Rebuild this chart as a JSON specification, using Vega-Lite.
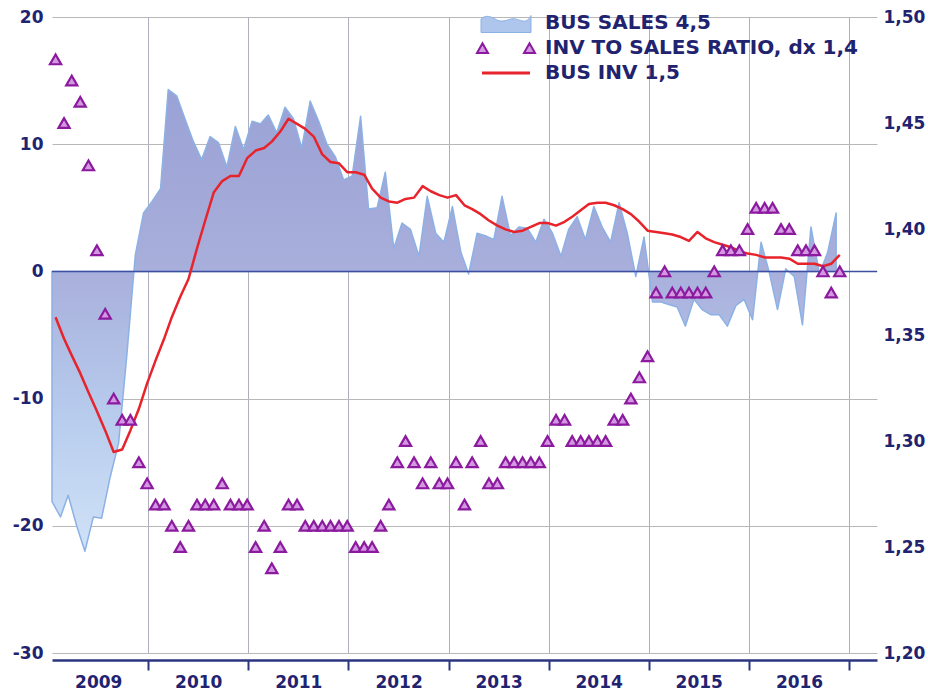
{
  "$schema": "https://vega.github.io/schema/vega-lite/v6.json",
  "width": 825,
  "height": 636,
  "autosize": {"type": "none"},
  "padding": {"left": 52, "top": 17, "right": 51, "bottom": 41},
  "background": "white",
  "config": {
    "view": {"stroke": null},
    "font": "DejaVu Sans",
    "legend": {
      "title": null,
      "orient": "none",
      "legendX": 444,
      "padding": 0,
      "symbolSize": 100,
      "symbolOpacity": 1,
      "labelOffset": 29,
      "labelFont": "DejaVu Sans",
      "labelFontWeight": "bold",
      "labelFontSize": 20,
      "labelColor": "#1f2370",
      "labelLimit": 0
    }
  },
  "datasets": {
    "sales": [
      {"d":"2009-01-15","sales":-18.1},{"d":"2009-02-15","sales":-19.3},{"d":"2009-03-15","sales":-17.6},{"d":"2009-04-15","sales":-20.0},{"d":"2009-05-15","sales":-22.0},{"d":"2009-06-15","sales":-19.3},{"d":"2009-07-15","sales":-19.4},{"d":"2009-08-15","sales":-16.2},{"d":"2009-09-15","sales":-13.5},{"d":"2009-10-15","sales":-6.6},{"d":"2009-11-15","sales":1.3},{"d":"2009-12-15","sales":4.6},
      {"d":"2010-01-15","sales":5.5},{"d":"2010-02-15","sales":6.5},{"d":"2010-03-15","sales":14.3},{"d":"2010-04-15","sales":13.8},{"d":"2010-05-15","sales":12.0},{"d":"2010-06-15","sales":10.2},{"d":"2010-07-15","sales":8.8},{"d":"2010-08-15","sales":10.6},{"d":"2010-09-15","sales":10.1},{"d":"2010-10-15","sales":8.2},{"d":"2010-11-15","sales":11.4},{"d":"2010-12-15","sales":9.6},
      {"d":"2011-01-15","sales":11.8},{"d":"2011-02-15","sales":11.6},{"d":"2011-03-15","sales":12.3},{"d":"2011-04-15","sales":10.9},{"d":"2011-05-15","sales":12.9},{"d":"2011-06-15","sales":12.0},{"d":"2011-07-15","sales":9.7},{"d":"2011-08-15","sales":13.4},{"d":"2011-09-15","sales":11.8},{"d":"2011-10-15","sales":10.0},{"d":"2011-11-15","sales":9.0},{"d":"2011-12-15","sales":7.2},
      {"d":"2012-01-15","sales":7.5},{"d":"2012-02-15","sales":12.2},{"d":"2012-03-15","sales":4.9},{"d":"2012-04-15","sales":5.0},{"d":"2012-05-15","sales":7.8},{"d":"2012-06-15","sales":1.8},{"d":"2012-07-15","sales":3.8},{"d":"2012-08-15","sales":3.3},{"d":"2012-09-15","sales":1.2},{"d":"2012-10-15","sales":5.9},{"d":"2012-11-15","sales":3.0},{"d":"2012-12-15","sales":2.3},
      {"d":"2013-01-15","sales":5.1},{"d":"2013-02-15","sales":1.5},{"d":"2013-03-15","sales":-0.2},{"d":"2013-04-15","sales":3.0},{"d":"2013-05-15","sales":2.8},{"d":"2013-06-15","sales":2.5},{"d":"2013-07-15","sales":5.9},{"d":"2013-08-15","sales":2.8},{"d":"2013-09-15","sales":3.5},{"d":"2013-10-15","sales":3.4},{"d":"2013-11-15","sales":2.3},{"d":"2013-12-15","sales":4.1},
      {"d":"2014-01-15","sales":3.0},{"d":"2014-02-15","sales":1.2},{"d":"2014-03-15","sales":3.3},{"d":"2014-04-15","sales":4.3},{"d":"2014-05-15","sales":2.5},{"d":"2014-06-15","sales":5.1},{"d":"2014-07-15","sales":3.5},{"d":"2014-08-15","sales":2.3},{"d":"2014-09-15","sales":5.4},{"d":"2014-10-15","sales":3.0},{"d":"2014-11-15","sales":-0.4},{"d":"2014-12-15","sales":2.7},
      {"d":"2015-01-15","sales":-2.4},{"d":"2015-02-15","sales":-2.4},{"d":"2015-03-15","sales":-2.6},{"d":"2015-04-15","sales":-2.8},{"d":"2015-05-15","sales":-4.3},{"d":"2015-06-15","sales":-2.2},{"d":"2015-07-15","sales":-3.0},{"d":"2015-08-15","sales":-3.4},{"d":"2015-09-15","sales":-3.4},{"d":"2015-10-15","sales":-4.3},{"d":"2015-11-15","sales":-2.7},{"d":"2015-12-15","sales":-2.2},
      {"d":"2016-01-15","sales":-3.8},{"d":"2016-02-15","sales":2.3},{"d":"2016-03-15","sales":0.0},{"d":"2016-04-15","sales":-3.0},{"d":"2016-05-15","sales":0.2},{"d":"2016-06-15","sales":-0.4},{"d":"2016-07-15","sales":-4.2},{"d":"2016-08-15","sales":3.5},{"d":"2016-09-15","sales":-0.2},{"d":"2016-10-15","sales":1.5},{"d":"2016-11-15","sales":4.6}
    ],
    "monthly": [
      {"d":"2009-01-28","ratio":1.48,"inv":-3.6},{"d":"2009-02-28","ratio":1.45,"inv":-5.3},{"d":"2009-03-28","ratio":1.47,"inv":-6.6},{"d":"2009-04-28","ratio":1.46,"inv":-8.0},{"d":"2009-05-28","ratio":1.43,"inv":-9.5},{"d":"2009-06-28","ratio":1.39,"inv":-11.0},{"d":"2009-07-28","ratio":1.36,"inv":-12.5},{"d":"2009-08-28","ratio":1.32,"inv":-14.2},{"d":"2009-09-28","ratio":1.31,"inv":-14.0},{"d":"2009-10-28","ratio":1.31,"inv":-12.5},{"d":"2009-11-28","ratio":1.29,"inv":-10.8},{"d":"2009-12-28","ratio":1.28,"inv":-8.8},
      {"d":"2010-01-28","ratio":1.27,"inv":-7.0},{"d":"2010-02-28","ratio":1.27,"inv":-5.3},{"d":"2010-03-28","ratio":1.26,"inv":-3.6},{"d":"2010-04-28","ratio":1.25,"inv":-2.0},{"d":"2010-05-28","ratio":1.26,"inv":-0.6},{"d":"2010-06-28","ratio":1.27,"inv":1.8},{"d":"2010-07-28","ratio":1.27,"inv":4.0},{"d":"2010-08-28","ratio":1.27,"inv":6.2},{"d":"2010-09-28","ratio":1.28,"inv":7.1},{"d":"2010-10-28","ratio":1.27,"inv":7.5},{"d":"2010-11-28","ratio":1.27,"inv":7.5},{"d":"2010-12-28","ratio":1.27,"inv":8.9},
      {"d":"2011-01-28","ratio":1.25,"inv":9.5},{"d":"2011-02-28","ratio":1.26,"inv":9.7},{"d":"2011-03-28","ratio":1.24,"inv":10.2},{"d":"2011-04-28","ratio":1.25,"inv":11.0},{"d":"2011-05-28","ratio":1.27,"inv":12.0},{"d":"2011-06-28","ratio":1.27,"inv":11.6},{"d":"2011-07-28","ratio":1.26,"inv":11.2},{"d":"2011-08-28","ratio":1.26,"inv":10.6},{"d":"2011-09-28","ratio":1.26,"inv":9.2},{"d":"2011-10-28","ratio":1.26,"inv":8.6},{"d":"2011-11-28","ratio":1.26,"inv":8.5},{"d":"2011-12-28","ratio":1.26,"inv":7.8},
      {"d":"2012-01-28","ratio":1.25,"inv":7.8},{"d":"2012-02-28","ratio":1.25,"inv":7.6},{"d":"2012-03-28","ratio":1.25,"inv":6.5},{"d":"2012-04-28","ratio":1.26,"inv":5.8},{"d":"2012-05-28","ratio":1.27,"inv":5.5},{"d":"2012-06-28","ratio":1.29,"inv":5.4},{"d":"2012-07-28","ratio":1.30,"inv":5.7},{"d":"2012-08-28","ratio":1.29,"inv":5.8},{"d":"2012-09-28","ratio":1.28,"inv":6.7},{"d":"2012-10-28","ratio":1.29,"inv":6.3},{"d":"2012-11-28","ratio":1.28,"inv":6.0},{"d":"2012-12-28","ratio":1.28,"inv":5.8},
      {"d":"2013-01-28","ratio":1.29,"inv":6.0},{"d":"2013-02-28","ratio":1.27,"inv":5.2},{"d":"2013-03-28","ratio":1.29,"inv":4.9},{"d":"2013-04-28","ratio":1.30,"inv":4.5},{"d":"2013-05-28","ratio":1.28,"inv":4.0},{"d":"2013-06-28","ratio":1.28,"inv":3.6},{"d":"2013-07-28","ratio":1.29,"inv":3.3},{"d":"2013-08-28","ratio":1.29,"inv":3.1},{"d":"2013-09-28","ratio":1.29,"inv":3.2},{"d":"2013-10-28","ratio":1.29,"inv":3.5},{"d":"2013-11-28","ratio":1.29,"inv":3.8},{"d":"2013-12-28","ratio":1.30,"inv":3.8},
      {"d":"2014-01-28","ratio":1.31,"inv":3.6},{"d":"2014-02-28","ratio":1.31,"inv":3.9},{"d":"2014-03-28","ratio":1.30,"inv":4.3},{"d":"2014-04-28","ratio":1.30,"inv":4.8},{"d":"2014-05-28","ratio":1.30,"inv":5.3},{"d":"2014-06-28","ratio":1.30,"inv":5.4},{"d":"2014-07-28","ratio":1.30,"inv":5.4},{"d":"2014-08-28","ratio":1.31,"inv":5.2},{"d":"2014-09-28","ratio":1.31,"inv":4.9},{"d":"2014-10-28","ratio":1.32,"inv":4.5},{"d":"2014-11-28","ratio":1.33,"inv":3.9},{"d":"2014-12-28","ratio":1.34,"inv":3.2},
      {"d":"2015-01-28","ratio":1.37,"inv":3.1},{"d":"2015-02-28","ratio":1.38,"inv":3.0},{"d":"2015-03-28","ratio":1.37,"inv":2.9},{"d":"2015-04-28","ratio":1.37,"inv":2.7},{"d":"2015-05-28","ratio":1.37,"inv":2.4},{"d":"2015-06-28","ratio":1.37,"inv":3.1},{"d":"2015-07-28","ratio":1.37,"inv":2.6},{"d":"2015-08-28","ratio":1.38,"inv":2.3},{"d":"2015-09-28","ratio":1.39,"inv":2.1},{"d":"2015-10-28","ratio":1.39,"inv":1.9},{"d":"2015-11-28","ratio":1.39,"inv":1.6},{"d":"2015-12-28","ratio":1.40,"inv":1.4},
      {"d":"2016-01-28","ratio":1.41,"inv":1.3},{"d":"2016-02-28","ratio":1.41,"inv":1.1},{"d":"2016-03-28","ratio":1.41,"inv":1.1},{"d":"2016-04-28","ratio":1.40,"inv":1.1},{"d":"2016-05-28","ratio":1.40,"inv":1.0},{"d":"2016-06-28","ratio":1.39,"inv":0.6},{"d":"2016-07-28","ratio":1.39,"inv":0.6},{"d":"2016-08-28","ratio":1.39,"inv":0.6},{"d":"2016-09-28","ratio":1.38,"inv":0.4},{"d":"2016-10-28","ratio":1.37,"inv":0.6},{"d":"2016-11-28","ratio":1.38,"inv":1.3}
    ]
  },
  "layer": [
    {
      "layer": [
        {
          "data": {"name": "sales"},
          "mark": {
            "type": "area",
            "fill": {"gradient": "linear", "x1": 0, "y1": 0, "x2": 0, "y2": 1,
              "stops": [
                {"offset": 0, "color": "#9aa1d5"},
                {"offset": 0.39, "color": "#a8afdb"},
                {"offset": 0.7, "color": "#b7cbed"},
                {"offset": 1, "color": "#d0e2f7"}
              ]},
            "stroke": "#8cb1e5",
            "strokeWidth": 1.5,
            "strokeJoin": "round"
          },
          "encoding": {
            "x": {"field": "d", "type": "temporal",
              "scale": {"type": "utc", "domain": [{"year": 2009, "month": 1, "date": 15, "utc": true}, {"year": 2017, "month": 4, "date": 13, "utc": true}]},
              "axis": {
                "values": [
                  {"year": 2010, "month": 1, "date": 1, "utc": true},
                  {"year": 2011, "month": 1, "date": 1, "utc": true},
                  {"year": 2012, "month": 1, "date": 1, "utc": true},
                  {"year": 2013, "month": 1, "date": 1, "utc": true},
                  {"year": 2014, "month": 1, "date": 1, "utc": true},
                  {"year": 2015, "month": 1, "date": 1, "utc": true},
                  {"year": 2016, "month": 1, "date": 1, "utc": true},
                  {"year": 2017, "month": 1, "date": 1, "utc": true}
                ],
                "labelExpr": "'' + (utcyear(datum.value) - 1)",
                "labelOffset": -50,
                "labelFlush": false,
                "labelOverlap": false,
                "labelBound": false,
                "labelFont": "DejaVu Sans",
                "labelFontWeight": "bold",
                "labelFontSize": 17,
                "labelColor": "#1f2370",
                "labelPadding": 4,
                "tickSize": 10,
                "tickWidth": 2,
                "tickColor": "#2b3580",
                "domainColor": "#2b3580",
                "domainWidth": 2.5,
                "offset": 7,
                "grid": true,
                "gridColor": "#aeb0c2",
                "gridWidth": 1,
                "title": null
              }
            },
            "y": {"field": "sales", "type": "quantitative",
              "scale": {"domain": [-30, 20], "nice": false, "zero": false},
              "axis": {
                "values": [-30, -20, -10, 0, 10, 20],
                "labelExpr": "'' + datum.value",
                "grid": true,
                "gridColor": "#b8b8b8",
                "gridWidth": 1,
                "domain": false,
                "ticks": false,
                "labelPadding": 9,
                "labelFont": "DejaVu Sans",
                "labelFontWeight": "bold",
                "labelFontSize": 17,
                "labelColor": "#1f2370",
                "title": null,
                "orient": "left"
              }
            },
            "y2": {"datum": 0}
          }
        },
        {
          "data": {"values": [{"z": 0}]},
          "mark": {"type": "rule", "color": "#3f4ea0", "strokeWidth": 1.5},
          "encoding": {"y": {"field": "z", "type": "quantitative"}}
        },
        {
          "data": {"name": "monthly"},
          "mark": {"type": "line", "color": "#e8232b", "strokeWidth": 2.5, "strokeJoin": "round"},
          "encoding": {
            "x": {"field": "d", "type": "temporal"},
            "y": {"field": "inv", "type": "quantitative"}
          }
        }
      ]
    },
    {
      "data": {"name": "monthly"},
      "mark": {"type": "point", "shape": "triangle-up", "filled": true, "fill": "#d497e2", "stroke": "#8b1a9e", "strokeWidth": 2.2, "size": 125, "opacity": 1},
      "encoding": {
        "x": {"field": "d", "type": "temporal"},
        "y": {"field": "ratio", "type": "quantitative",
          "scale": {"domain": [1.2, 1.5], "nice": false, "zero": false},
          "axis": {
            "values": [1.2, 1.25, 1.3, 1.35, 1.4, 1.45, 1.5],
            "labelExpr": "replace(format(datum.value, '.2f'), '.', ',')",
            "orient": "right",
            "grid": false,
            "domain": false,
            "ticks": false,
            "labelPadding": 6,
            "labelFont": "DejaVu Sans",
            "labelFontWeight": "bold",
            "labelFontSize": 17,
            "labelColor": "#1f2370",
            "title": null
          }
        }
      }
    },
    {
      "data": {"values": [{"series": "BUS SALES 4,5"}]},
      "mark": {"type": "point", "opacity": 0, "filled": true, "stroke": "#8cb1e5", "strokeWidth": 1,
        "shape": "M-5,-0.8 C-4,-1.7 -3,-1.3 -2,-0.7 C-1,-0.1 0,-0.5 1,-0.8 C2,-1.1 3,-0.2 4,-0.4 C4.5,-0.6 4.8,-1.2 5,-1.5 L5,1.9 L-5,1.9 Z"},
      "encoding": {
        "color": {"field": "series", "type": "nominal",
          "scale": {"range": ["#aec6ec"]},
          "legend": {"legendY": -4, "symbolStrokeWidth": 1}
        }
      }
    },
    {
      "data": {"values": [{"series": "INV TO SALES RATIO, dx 1,4"}]},
      "mark": {"type": "point", "opacity": 0, "filled": true, "stroke": "#8b1a9e", "strokeWidth": 2,
        "shape": "M-5.8,1 L-4.7,-0.95 L-3.6,1 Z M3.6,1 L4.7,-0.95 L5.8,1 Z"},
      "encoding": {
        "color": {"field": "series", "type": "nominal",
          "scale": {"range": ["#d497e2"]},
          "legend": {"legendY": 21, "symbolStrokeWidth": 2}
        }
      }
    },
    {
      "data": {"values": [{"series": "BUS INV 1,5"}]},
      "mark": {"type": "point", "opacity": 0, "filled": false, "strokeWidth": 3,
        "shape": "M-4.8,0 L4.8,0"},
      "encoding": {
        "color": {"field": "series", "type": "nominal",
          "scale": {"range": ["#e8232b"]},
          "legend": {"legendY": 46, "symbolStrokeWidth": 3}
        }
      }
    }
  ],
  "resolve": {
    "scale": {"y": "independent", "color": "independent"},
    "legend": {"color": "independent"}
  }
}
